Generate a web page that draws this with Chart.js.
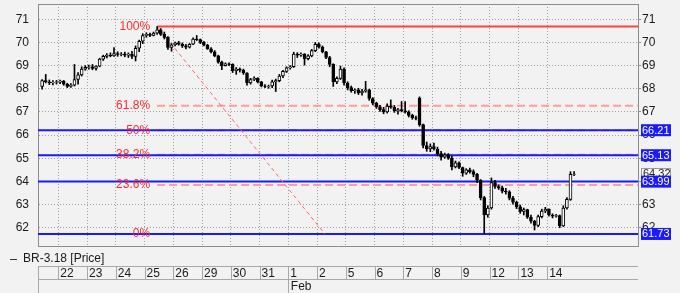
<!DOCTYPE html>
<html>
<head>
<meta charset="utf-8">
<style>
  html, body { margin: 0; padding: 0; background: #f2f2f2; }
  canvas { display: block; }
</style>
<script src="https://cdn.jsdelivr.net/npm/chart.js@4.4.1/dist/chart.umd.min.js"></script>
</head>
<body>
<canvas id="chart" width="680" height="293"></canvas>
<script>
const seriesName = "BR-3.18 [Price]";

// trading days shown on the bottom axis (index 0 = 22 Jan)
const dayLabels = ["22", "23", "24", "25", "26", "29", "30", "31", "1", "2", "5", "6", "7", "8", "9", "12", "13", "14"];
const monthLabel = "Feb";
const monthStartDay = 8;

// intraday bars, 8 per day, first bar sits in slot 3 of the day before the 22nd
const barsPerDay = 8;
const firstSlot = 3;

const opens = [
  68.10, 68.35, 68.30, 68.25, 68.28,
  68.28, 68.33, 68.20, 68.10, 68.15, 68.40, 68.60, 68.85,
  68.92, 68.95, 68.88, 68.98, 69.28, 69.40, 69.45, 69.42,
  69.52, 69.48, 69.50, 69.45, 69.50, 69.40, 69.75, 70.05,
  70.30, 70.35, 70.30, 70.40, 70.55, 70.35, 70.22, 69.78,
  69.90, 69.98, 69.92, 69.85, 69.80, 69.92, 70.15, 70.12,
  70.00, 69.88, 69.72, 69.60, 69.42, 69.15, 69.00, 69.08,
  69.05, 68.78, 68.85, 68.80, 68.68, 68.25, 68.40, 68.45,
  68.30, 68.12, 68.10, 68.12, 68.30, 68.35, 68.55, 68.75,
  68.90, 68.95, 69.50, 69.45, 69.50, 69.30, 69.42, 69.65,
  69.92, 69.80, 69.60, 69.35, 69.05, 68.30, 68.45, 68.85,
  68.25, 68.05, 67.92, 67.95, 67.82, 67.90, 67.95, 67.58,
  67.38, 67.22, 67.10, 67.00, 67.25, 67.20, 67.05, 67.10,
  67.05, 67.00, 66.85, 66.75, 67.60, 66.45, 65.55, 65.40,
  65.50, 65.40, 65.20, 65.05, 65.15, 65.00, 64.62, 64.80,
  64.60, 64.35, 64.50, 64.42, 64.30, 64.05, 63.30, 62.55,
  62.85, 63.95, 63.78, 63.72, 63.58, 63.55, 63.28, 63.10,
  62.90, 62.70, 62.78, 62.45, 62.28, 62.10, 62.48, 62.72,
  62.80, 62.55, 62.50, 62.52, 62.08, 62.85, 63.22, 64.30
];
const highs = [
  68.40, 68.62, 68.38, 68.35, 68.36,
  68.38, 68.36, 68.24, 68.22, 69.05, 68.70, 68.95, 69.00,
  69.02, 69.05, 69.00, 69.32, 69.45, 69.52, 69.55, 69.78,
  69.60, 69.56, 69.58, 69.55, 69.62, 69.85, 70.10, 70.38,
  70.42, 70.40, 70.45, 70.69, 70.60, 70.45, 70.25, 69.95,
  70.02, 70.05, 69.98, 69.92, 69.95, 70.20, 70.30, 70.15,
  70.05, 69.92, 69.78, 69.65, 69.45, 69.20, 69.12, 69.12,
  69.08, 68.92, 68.90, 68.85, 68.70, 68.45, 68.52, 68.48,
  68.32, 68.18, 68.16, 68.38, 68.42, 68.62, 68.80, 68.95,
  69.00, 69.58, 69.56, 69.55, 69.52, 69.48, 69.70, 70.00,
  69.98, 69.85, 69.62, 69.40, 69.08, 68.52, 68.98, 68.90,
  68.30, 68.12, 68.00, 68.02, 67.98, 68.32, 67.98, 67.62,
  67.42, 67.28, 67.20, 67.35, 67.52, 67.28, 67.15, 67.45,
  67.45, 67.05, 66.90, 66.82, 67.65, 66.48, 65.70, 65.62,
  65.65, 65.48, 65.30, 65.22, 65.20, 65.08, 64.88, 64.85,
  64.62, 64.55, 64.58, 64.50, 64.35, 64.08, 63.35, 62.95,
  64.15, 64.05, 63.85, 63.80, 63.70, 63.60, 63.35, 63.15,
  62.98, 62.85, 62.80, 62.55, 62.32, 62.55, 62.80, 62.88,
  62.82, 62.60, 62.58, 62.55, 62.95, 63.30, 64.42, 64.42
];
const lows = [
  67.98, 68.25, 68.18, 68.17, 68.20,
  68.22, 68.15, 68.05, 68.06, 68.12, 68.20, 68.55, 68.80,
  68.85, 68.82, 68.80, 68.95, 69.22, 69.33, 69.38, 69.40,
  69.40, 69.42, 69.38, 69.35, 69.30, 69.20, 69.60, 69.95,
  70.22, 70.25, 70.28, 70.35, 70.30, 70.15, 69.70, 69.62,
  69.85, 69.88, 69.78, 69.72, 69.76, 69.90, 70.08, 69.95,
  69.85, 69.70, 69.55, 69.38, 69.10, 68.82, 68.98, 69.00,
  68.70, 68.62, 68.72, 68.62, 68.15, 68.20, 68.35, 68.25,
  68.08, 68.05, 68.02, 68.05, 67.88, 68.30, 68.48, 68.70,
  68.85, 68.92, 69.35, 69.40, 69.02, 69.25, 69.38, 69.60,
  69.75, 69.55, 69.30, 68.95, 68.10, 68.22, 68.40, 68.15,
  67.95, 67.85, 67.80, 67.75, 67.72, 67.85, 67.50, 67.30,
  67.15, 67.02, 66.92, 66.95, 67.15, 66.98, 66.90, 67.00,
  66.95, 66.78, 66.68, 66.65, 66.38, 65.45, 65.30, 65.28,
  65.35, 65.10, 64.92, 65.00, 64.95, 64.50, 64.58, 64.55,
  64.22, 64.30, 64.35, 64.20, 63.95, 63.20, 61.73, 62.45,
  62.80, 63.70, 63.65, 63.50, 63.45, 63.20, 63.02, 62.82,
  62.62, 62.55, 62.40, 62.20, 61.90, 62.05, 62.42, 62.65,
  62.50, 62.42, 62.45, 62.00, 62.05, 62.80, 63.18, 64.25
];
const closes = [
  68.35, 68.30, 68.25, 68.28, 68.30,
  68.33, 68.20, 68.10, 68.15, 68.40, 68.60, 68.85, 68.92,
  68.95, 68.88, 68.98, 69.28, 69.40, 69.45, 69.42, 69.52,
  69.48, 69.50, 69.45, 69.50, 69.40, 69.75, 70.05, 70.30,
  70.35, 70.30, 70.40, 70.55, 70.35, 70.22, 69.78, 69.90,
  69.98, 69.92, 69.85, 69.80, 69.92, 70.15, 70.12, 70.00,
  69.88, 69.72, 69.60, 69.42, 69.15, 69.00, 69.08, 69.05,
  68.78, 68.85, 68.80, 68.68, 68.25, 68.40, 68.45, 68.30,
  68.12, 68.10, 68.12, 68.30, 68.35, 68.55, 68.75, 68.90,
  68.95, 69.50, 69.45, 69.50, 69.30, 69.42, 69.65, 69.92,
  69.80, 69.60, 69.35, 69.05, 68.30, 68.45, 68.85, 68.25,
  68.05, 67.92, 67.95, 67.82, 67.90, 67.95, 67.58, 67.38,
  67.22, 67.10, 67.00, 67.25, 67.20, 67.05, 67.10, 67.05,
  67.00, 66.85, 66.75, 66.72, 66.45, 65.55, 65.40, 65.50,
  65.40, 65.20, 65.05, 65.15, 65.00, 64.62, 64.80, 64.60,
  64.35, 64.50, 64.42, 64.30, 64.05, 63.30, 62.55, 62.85,
  63.95, 63.78, 63.72, 63.58, 63.55, 63.28, 63.10, 62.90,
  62.70, 62.78, 62.45, 62.28, 62.10, 62.48, 62.72, 62.80,
  62.55, 62.50, 62.52, 62.08, 62.85, 63.22, 64.30, 64.32
];

// fibonacci retracement drawn from the 25 Jan high
const fibLabels = ["100%", "61.8%", "50%", "38.2%", "23.6%", "0%"];
const fibPrices = [70.69, 67.27, 66.21, 65.15, 63.84, 61.73];
const fibStartX = 3.4375;
const fibTrendEndX = 9.27;

// horizontal price lines with their axis markers
const levelPrices = [66.21, 65.13, 63.99, 61.73];
const lastPrice = 64.32;

const xMin = -0.706;
const xMax = 20.16;

const slotX = (i) => -1 + (firstSlot + i + 0.5) / barsPerDay;
const FONT = "Liberation Sans, Arial, sans-serif";

function hLine(label, x0, x1, price, color, width, dash) {
  return {
    type: "line",
    label,
    data: [{ x: x0, y: price }, { x: x1, y: price }],
    borderColor: color,
    borderWidth: width,
    borderDash: dash || [],
    pointRadius: 0,
    order: 5,
  };
}

const datasets = [];
levelPrices.forEach((p) => datasets.push(hLine("level " + p, xMin, xMax, p, "#1a1aff", 2)));
fibPrices.forEach((p, i) => {
  const solid = i === 0 || i === fibPrices.length - 1;
  datasets.push(hLine(fibLabels[i], fibStartX, xMax, p, solid ? "#ff4040" : "#ff9c9c", solid ? (i === 0 ? 2 : 1) : 2, solid ? [] : [8, 4]));
});
datasets.push({
  type: "line",
  label: "trend",
  data: [{ x: fibStartX, y: fibPrices[0] }, { x: fibTrendEndX, y: fibPrices[fibPrices.length - 1] }],
  borderColor: "#ff6a6a",
  borderWidth: 1,
  borderDash: [4, 3],
  pointRadius: 0,
  order: 4,
});
datasets.push({
  label: seriesName,
  data: closes.map((c, i) => ({ x: slotX(i), y: [lows[i], highs[i]] })),
  backgroundColor: "#000000",
  barThickness: 1,
  grouped: false,
  order: 2,
});
datasets.push({
  label: "body",
  data: closes.map((c, i) => ({ x: slotX(i), y: [Math.min(opens[i], c), Math.max(opens[i], c)] })),
  backgroundColor: closes.map((c, i) => (c >= opens[i] ? "#ffffff" : "#000000")),
  borderColor: "#000000",
  borderWidth: 1,
  borderSkipped: false,
  barThickness: 3,
  grouped: false,
  order: 1,
});

const overlay = {
  id: "overlay",
  afterDraw(chart) {
    const { ctx, chartArea: a } = chart;
    const x = chart.scales.x;
    const y = chart.scales.y;
    ctx.save();

    // top edge of the plot frame
    ctx.strokeStyle = "#8c8c8c";
    ctx.lineWidth = 1;
    ctx.beginPath();
    ctx.moveTo(a.left, a.top + 0.5);
    ctx.lineTo(a.right, a.top + 0.5);
    ctx.stroke();

    // fib labels
    ctx.font = "12px " + FONT;
    ctx.fillStyle = "#ff2b2b";
    ctx.textAlign = "right";
    ctx.textBaseline = "middle";
    const lx = x.getPixelForValue(fibStartX) - 7;
    fibPrices.forEach((p, i) => ctx.fillText(fibLabels[i], lx, y.getPixelForValue(p)));

    // price markers on the right axis
    ctx.textAlign = "left";
    ctx.font = "11px " + FONT;
    const bx = a.right + 3;
    const bw = 30;
    const lp = y.getPixelForValue(lastPrice);
    ctx.fillStyle = "#f7f7f7";
    ctx.fillRect(bx, lp - 6, bw, 12);
    ctx.strokeStyle = "#9a9a9a";
    ctx.strokeRect(bx + 0.5, lp - 5.5, bw - 1, 11);
    ctx.fillStyle = "#222222";
    ctx.fillText(lastPrice.toFixed(2), bx + 2, lp);
    levelPrices.forEach((p) => {
      const py = y.getPixelForValue(p);
      ctx.fillStyle = "#1a1aff";
      ctx.fillRect(bx, py - 6, bw, 12);
      ctx.fillStyle = "#ffffff";
      ctx.fillText(p.toFixed(2), bx + 1, py + 0.5);
    });

    // legend
    ctx.strokeStyle = "#333333";
    ctx.beginPath();
    ctx.moveTo(10, 259.5);
    ctx.lineTo(17, 259.5);
    ctx.stroke();
    ctx.font = "12px " + FONT;
    ctx.fillStyle = "#1a1a1a";
    ctx.fillText(seriesName, 23, 259);

    // date table
    const r1 = 266.5, r2 = 279.5, r3 = 293;
    ctx.strokeStyle = "#a8a8a8";
    ctx.beginPath();
    ctx.moveTo(a.left, r1); ctx.lineTo(a.right, r1);
    ctx.moveTo(a.left, r2); ctx.lineTo(a.right, r2);
    ctx.moveTo(a.left + 0.5, r1); ctx.lineTo(a.left + 0.5, r3);
    dayLabels.forEach((d, i) => {
      const px = Math.round(x.getPixelForValue(i)) + 0.5;
      ctx.moveTo(px, r1);
      ctx.lineTo(px, i === monthStartDay ? r3 : r2);
    });
    ctx.stroke();
    ctx.fillStyle = "#1a1a1a";
    dayLabels.forEach((d, i) => ctx.fillText(d, x.getPixelForValue(i) + 2, 273.5));
    ctx.fillText(monthLabel, x.getPixelForValue(monthStartDay) + 2.5, 286.5);

    ctx.restore();
  },
};

new Chart(document.getElementById("chart"), {
  type: "bar",
  data: { datasets },
  options: {
    responsive: false,
    animation: false,
    devicePixelRatio: 1,
    layout: { padding: { top: 4, left: 0, right: 0, bottom: 0 } },
    plugins: { legend: { display: false }, tooltip: { enabled: false } },
    scales: {
      x: {
        type: "linear",
        min: xMin,
        max: xMax,
        offset: false,
        grid: { offset: false, color: "#a0a0a0", drawTicks: false },
        border: { color: "#8c8c8c", dash: [1, 2] },
        ticks: { display: false },
        afterBuildTicks(s) { s.ticks = dayLabels.map((d, i) => ({ value: i })); },
        afterFit(s) { s.height = 47; },
      },
      y: {
        position: "left",
        min: 61.21,
        max: 71.66,
        grid: { color: "#a0a0a0", drawTicks: false },
        border: { color: "#8c8c8c", dash: [1, 2] },
        ticks: { stepSize: 1, includeBounds: false, padding: 9, color: "#1a1a1a", font: { family: FONT, size: 12 } },
        afterFit(s) { s.width = 38; s.paddingTop = 0; s.paddingBottom = 0; },
      },
      y2: {
        position: "right",
        min: 61.21,
        max: 71.66,
        grid: { drawOnChartArea: false, drawTicks: true, tickLength: 3, tickColor: "#8c8c8c" },
        border: { color: "#8c8c8c" },
        ticks: { stepSize: 1, includeBounds: false, padding: 1, color: "#1a1a1a", font: { family: FONT, size: 12 } },
        afterFit(s) { s.width = 42; s.paddingTop = 0; s.paddingBottom = 0; },
      },
    },
  },
  plugins: [overlay],
});
</script>
</body>
</html>
